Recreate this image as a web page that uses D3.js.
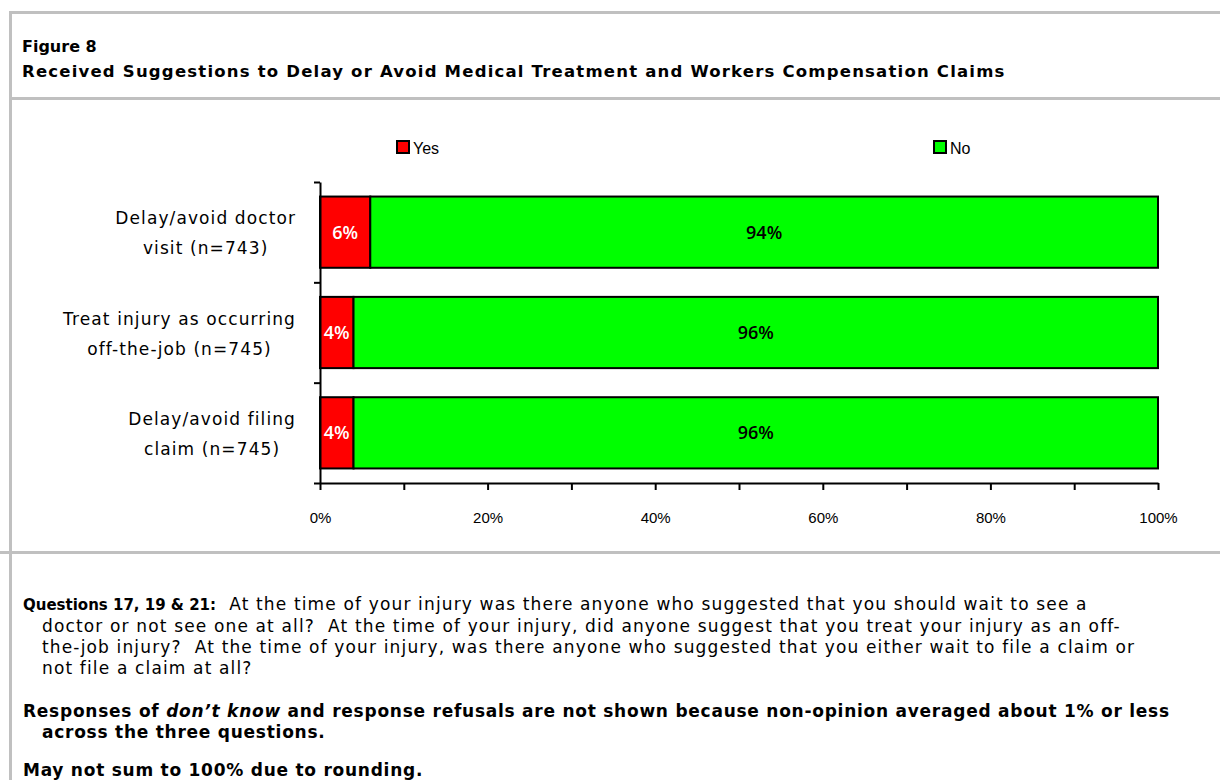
<!DOCTYPE html>
<html>
<head>
<meta charset="utf-8">
<script src="https://cdn.jsdelivr.net/npm/d3@7"></script>
<style>
  html, body { margin: 0; padding: 0; background: #fff; }
  svg { display: block; }
</style>
</head>
<body>
<svg id="chart" width="1220" height="780"></svg>
<script>
// Survey items (two-line labels) and their Yes / No shares in percent
const categories = [
  ["Delay/avoid doctor", "visit (n=743)"],
  ["Treat injury as occurring", "off-the-job (n=745)"],
  ["Delay/avoid filing", "claim (n=745)"]
];
const yesValues = [6, 4, 4];
const noValues = [94, 96, 96];
const seriesNames = ["Yes", "No"];
const seriesColors = ["#ff0000", "#00ff00"];
const xTickValues = [0, 10, 20, 30, 40, 50, 60, 70, 80, 90, 100];

const svg = d3.select("#chart");
const frame = "#c0c0c0";

// Page frame: outer rules and section separators
svg.append("rect").attr("x", 9).attr("y", 11).attr("width", 3).attr("height", 780 - 11).attr("fill", frame);
svg.append("rect").attr("x", 9).attr("y", 11).attr("width", 1220 - 9).attr("height", 3).attr("fill", frame);
svg.append("rect").attr("x", 9).attr("y", 97).attr("width", 1220 - 9).attr("height", 3).attr("fill", frame);
svg.append("rect").attr("x", 0).attr("y", 551).attr("width", 1220).attr("height", 3).attr("fill", frame);

// Title block
const titleFont = "'DejaVu Sans', sans-serif";
svg.append("text").attr("x", 22).attr("y", 52)
  .attr("font-family", titleFont).attr("font-weight", "bold").attr("font-size", 16)
  .text("Figure 8");
svg.append("text").attr("x", 22).attr("y", 77)
  .attr("font-family", titleFont).attr("font-weight", "bold").attr("font-size", 16.5)
  .attr("letter-spacing", 1.2)
  .text("Received Suggestions to Delay or Avoid Medical Treatment and Workers Compensation Claims");

// Scales
const x = d3.scaleLinear().domain([0, 100]).range([320, 1158]);
const y = d3.scaleBand().domain(d3.range(categories.length)).range([182, 483])
  .paddingInner(0.29).paddingOuter(0.145);
const yEdges = d3.scaleLinear().domain([0, categories.length]).range([182, 483]);

// Stacked rows
const rows = categories.map((c, i) => ({ i, yes: yesValues[i], no: noValues[i] }));
const stack = d3.stack().keys(["yes", "no"]);
const layers = stack(rows);

const g = svg.append("g");
layers.forEach((layer, k) => {
  g.selectAll(null).data(layer).enter().append("rect")
    .attr("x", d => x(d[0]))
    .attr("y", d => y(d.data.i))
    .attr("width", d => x(d[1]) - x(d[0]))
    .attr("height", y.bandwidth())
    .attr("fill", seriesColors[k])
    .attr("stroke", "#000")
    .attr("stroke-width", 2);
});

// Value labels inside segments
layers.forEach((layer, k) => {
  g.selectAll(null).data(layer).enter().append("text")
    .attr("x", d => (x(d[0]) + x(d[1])) / 2)
    .attr("y", d => y(d.data.i) + y.bandwidth() / 2)
    .attr("dy", "0.36em")
    .attr("text-anchor", "middle")
    .attr("font-family", "'Open Sans', sans-serif")
    .attr("font-weight", 600)
    .attr("font-size", 18)
    .attr("fill", k === 0 ? "#fff" : "#000")
    .text(d => (d[1] - d[0]) + "%");
});

// Category axis: ticks on the band edges
const yAxis = svg.append("g").attr("transform", "translate(320,0)")
  .call(d3.axisLeft(yEdges).tickValues(d3.range(categories.length + 1))
    .tickFormat("").tickSize(6).tickSizeOuter(0));
yAxis.select(".domain").attr("stroke", "#000").attr("stroke-width", 2);
yAxis.selectAll(".tick line").attr("stroke", "#000").attr("stroke-width", 2);

// Category labels: two-line blocks, right-aligned, lines centred within the block
const catFont = "'DejaVu Sans', sans-serif";
categories.forEach((lines, i) => {
  const t = svg.append("text")
    .attr("font-family", catFont).attr("font-size", 17).attr("letter-spacing", 1.1)
    .attr("fill", "#000").attr("text-anchor", "middle");
  const cy = y(i) + y.bandwidth() / 2;
  const spans = lines.map((ln, j) => t.append("tspan").attr("y", cy + (j === 0 ? -8 : 22)).text(ln));
  const widths = spans.map(s => s.node().getComputedTextLength());
  const w = d3.max(widths);
  const right = 296;
  spans.forEach(s => s.attr("x", right - w / 2));
});

// Value axis
const xAxis = svg.append("g").attr("transform", "translate(0,483)")
  .call(d3.axisBottom(x).tickValues(xTickValues)
    .tickFormat(d => d % 20 === 0 ? d + "%" : "")
    .tickSize(7).tickSizeOuter(0).tickPadding(22));
xAxis.select(".domain").attr("stroke", "#000").attr("stroke-width", 2);
xAxis.selectAll(".tick line").attr("stroke", "#000").attr("stroke-width", 2);
xAxis.selectAll(".tick text")
  .attr("font-family", "'Liberation Sans', sans-serif")
  .attr("font-size", 15).attr("fill", "#000");

// Legend
const legend = svg.append("g");
const legendX = [397, 934];
seriesNames.forEach((name, k) => {
  legend.append("rect").attr("x", legendX[k]).attr("y", 141)
    .attr("width", 12).attr("height", 12)
    .attr("fill", seriesColors[k]).attr("stroke", "#000").attr("stroke-width", 2);
  legend.append("text").attr("x", legendX[k] + 16).attr("y", 148).attr("dy", "0.35em")
    .attr("font-family", "'Liberation Sans', sans-serif").attr("font-size", 16)
    .attr("fill", "#000").text(name);
});

// Notes below the chart
const noteFont = "'DejaVu Sans', sans-serif";
const plain = { size: 17, spacing: 1.15, weight: "normal" };
const strong = { size: 17, spacing: 0.75, weight: "bold" };
const indent = 42;
function note(xPos, yPos, parts, style) {
  const t = svg.append("text").attr("x", xPos).attr("y", yPos)
    .attr("font-family", noteFont).attr("font-size", style.size)
    .attr("font-weight", style.weight).attr("letter-spacing", style.spacing)
    .attr("fill", "#000");
  parts.forEach(p => {
    const s = t.append("tspan").text(p.text);
    if (p.italic) s.attr("font-style", "italic");
    if (p.bold) s.attr("font-weight", "bold").attr("letter-spacing", 0).attr("font-size", 15);
  });
  return t;
}

note(23, 610, [
  { text: "Questions 17, 19 & 21:", bold: true },
  { text: "\u00a0 At the time of your injury was there anyone who suggested that you should wait to see a" }
], plain);
note(indent, 632, [{ text: "doctor or not see one at all?\u00a0 At the time of your injury, did anyone suggest that you treat your injury as an off-" }], plain);
note(indent, 653, [{ text: "the-job injury?\u00a0 At the time of your injury, was there anyone who suggested that you either wait to file a claim or" }], plain);
note(indent, 674, [{ text: "not file a claim at all?" }], plain);

note(23, 717, [
  { text: "Responses of " },
  { text: "don\u2019t know", italic: true },
  { text: " and response refusals are not shown because non-opinion averaged about 1% or less" }
], strong);
note(indent, 738, [{ text: "across the three questions." }], strong);
note(23, 776, [{ text: "May not sum to 100% due to rounding." }], strong);
</script>
</body>
</html>
